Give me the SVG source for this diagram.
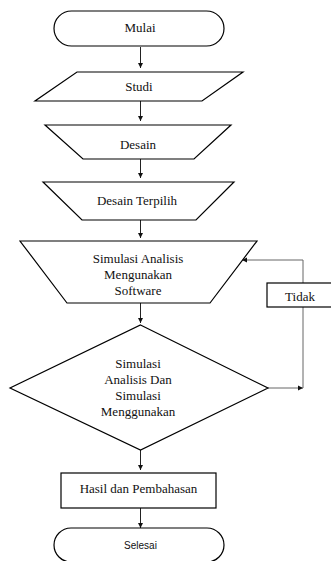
<svg xmlns="http://www.w3.org/2000/svg" width="331" height="561" viewBox="0 0 331 561">
<style>
.s{fill:#fff;stroke:#000;stroke-width:1.2}
.t{font-family:"Liberation Serif","Times New Roman",serif;font-size:13px;fill:#111;text-anchor:middle}
.ts{font-family:"Liberation Sans",Arial,sans-serif;font-size:10px;fill:#111;text-anchor:middle}
.c{fill:none;stroke:#222;stroke-width:1}
.f{fill:none;stroke:#666;stroke-width:1}
</style>
<defs>
<marker id="a" viewBox="0 0 10 10" refX="10" refY="5" markerWidth="5" markerHeight="6" markerUnits="userSpaceOnUse" orient="auto">
<path d="M0,0 L10,5 L0,10 Z" fill="#111"/>
</marker>
</defs>
<rect width="331" height="561" fill="#fff"/>
<g id="connectors">
<line class="c" x1="140.5" y1="47" x2="140.5" y2="68" marker-end="url(#a)"/>
<line class="c" x1="140.5" y1="101" x2="140.5" y2="121" marker-end="url(#a)"/>
<line class="c" x1="140.5" y1="159" x2="140.5" y2="178" marker-end="url(#a)"/>
<line class="c" x1="140.5" y1="220" x2="140.5" y2="238" marker-end="url(#a)"/>
<line class="c" x1="140.5" y1="303" x2="140.5" y2="323" marker-end="url(#a)"/>
<line class="c" x1="140.5" y1="450" x2="140.5" y2="470" marker-end="url(#a)"/>
<line class="c" x1="140.5" y1="508" x2="140.5" y2="528" marker-end="url(#a)"/>
<polyline class="f" points="268,388 303,388" marker-end="url(#a)"/>
<line class="f" x1="303" y1="388" x2="303" y2="307"/>
<polyline class="f" points="303,283 303,260 242,260" marker-end="url(#a)"/>
</g>
<g id="mulai">
<rect class="s" x="54" y="11" width="170" height="35" rx="17.5"/>
<text class="t" x="140" y="31.5">Mulai</text>
</g>
<g id="studi">
<polygon class="s" points="77,72 243,72 202,101 35,101"/>
<text class="t" x="139" y="90.5">Studi</text>
</g>
<g id="desain">
<polygon class="s" points="45,125 231,125 194,159 83,159"/>
<text class="t" x="138" y="148.5">Desain</text>
</g>
<g id="desain-terpilih">
<polygon class="s" points="43,182 234,182 196,220 82,220"/>
<text class="t" x="137" y="204.5">Desain Terpilih</text>
</g>
<g id="simulasi-software">
<polygon class="s" points="20,241 257,241 210,303 67,303"/>
<text class="t" x="138" y="262.5">Simulasi Analisis</text>
<text class="t" x="138" y="278.5">Mengunakan</text>
<text class="t" x="138" y="294.5">Software</text>
</g>
<g id="keputusan">
<polygon class="s" points="140.5,325 268,388 140.5,450 10,388"/>
<text class="t" x="138" y="367.5">Simulasi</text>
<text class="t" x="138" y="384">Analisis Dan</text>
<text class="t" x="138" y="400">Simulasi</text>
<text class="t" x="138" y="415.5">Menggunakan</text>
</g>
<g id="tidak">
<rect class="s" x="267" y="283" width="70" height="24"/>
<text class="t" x="300" y="300.5">Tidak</text>
</g>
<g id="hasil">
<rect class="s" x="61" y="473" width="155" height="35"/>
<text class="t" x="138.5" y="492.5">Hasil dan Pembahasan</text>
</g>
<g id="selesai">
<rect class="s" x="54" y="528" width="170" height="34" rx="17"/>
<text class="ts" x="140.5" y="549">Selesai</text>
</g>
</svg>
